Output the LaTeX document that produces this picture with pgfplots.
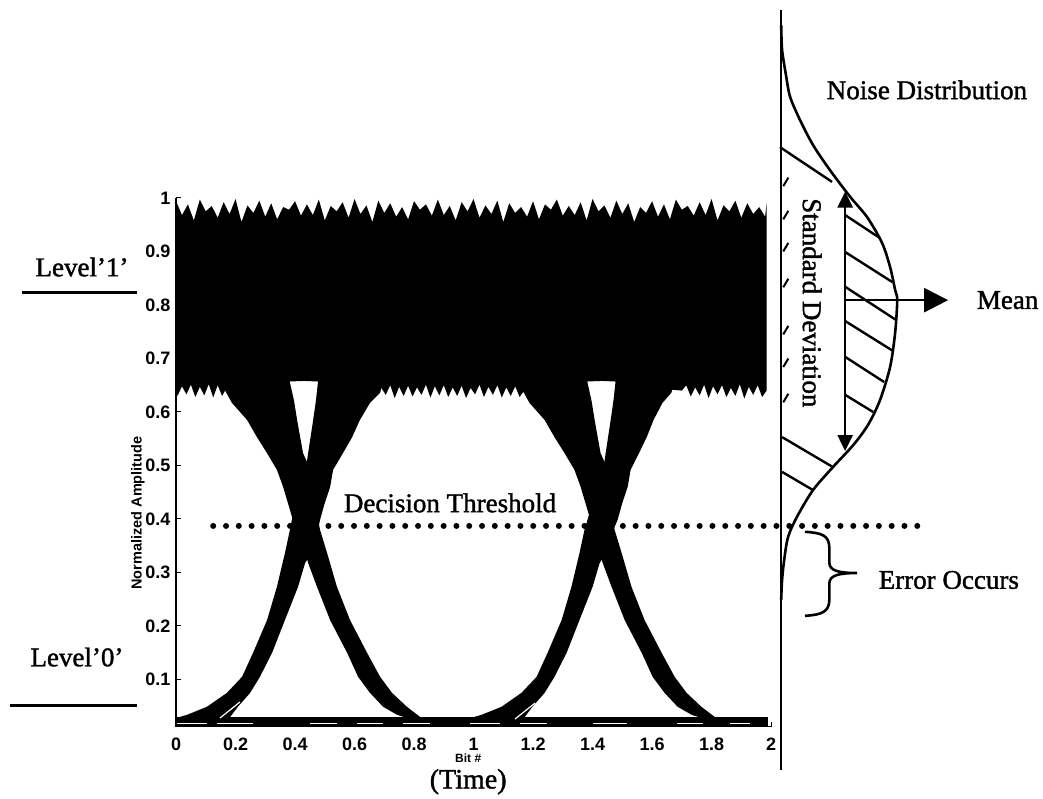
\documentclass[border=0pt]{standalone}
\usepackage{fontspec}
\setmainfont{Liberation Serif}
\setsansfont{Liberation Sans}
\newfontfamily\heavyserif[FakeBold=1.4]{Liberation Serif}
\usepackage{pgfplots}
\pgfplotsset{compat=1.18}
\usetikzlibrary{arrows.meta}
\newcommand{\lbl}{\fontsize{27}{32}\selectfont\heavyserif}
\newcommand{\tlfont}{\fontsize{18}{20}\selectfont\sffamily\bfseries}

\begin{document}
\begin{tikzpicture}
\begin{axis}[
  x=297.5pt, y=535pt,
  xmin=0, xmax=2, ymin=0.012, ymax=1,
  axis x line=bottom, axis y line=left,
  axis line style={-, line width=1.3pt},
  clip=false, no markers,
  xtick={0,0.2,0.4,0.6,0.8,1,1.2,1.4,1.6,1.8,2},
  xticklabels={0,0.2,0.4,0.6,0.8,1,1.2,1.4,1.6,1.8,2},
  ytick={0.1,0.2,0.3,0.4,0.5,0.6,0.7,0.8,0.9,1},
  yticklabels={0.1,0.2,0.3,0.4,0.5,0.6,0.7,0.8,0.9,1},
  tick align=inside, major tick length=5pt,
  every tick/.style={black, line width=1pt},
  ticklabel style={font=\tlfont},
  yticklabel style={xshift=-2pt},
  xticklabel style={yshift=-8pt},
  /pgf/number format/assume math mode=true,
]
% bounding frame (page size)
\path (axis cs:-0.5916,-0.1215) rectangle (axis cs:2.914,1.370);

% ---- "1" level band ----
\addplot[fill=black, draw=none] coordinates {
(0.00,0.994)(0.02,0.968)(0.04,0.988)(0.06,0.958)(0.08,0.997)(0.10,0.975)(0.12,0.985)(0.14,0.963)(0.16,0.992)(0.18,0.970)
(0.20,0.998)(0.22,0.955)(0.24,0.986)(0.26,0.972)(0.28,0.995)(0.30,0.965)(0.32,0.990)(0.34,0.960)(0.36,0.983)(0.38,0.978)
(0.40,0.994)(0.42,0.967)(0.44,0.988)(0.46,0.968)(0.48,0.997)(0.50,0.958)(0.52,0.985)(0.54,0.975)(0.56,0.992)(0.58,0.963)
(0.60,0.998)(0.62,0.970)(0.64,0.986)(0.66,0.955)(0.68,0.995)(0.70,0.972)(0.72,0.990)(0.74,0.965)(0.76,0.983)(0.78,0.960)
(0.80,0.994)(0.82,0.978)(0.84,0.988)(0.86,0.967)(0.88,0.997)(0.90,0.968)(0.92,0.985)(0.94,0.958)(0.96,0.992)(0.98,0.975)
(1.00,0.998)(1.02,0.963)(1.04,0.986)(1.06,0.970)(1.08,0.995)(1.10,0.955)(1.12,0.990)(1.14,0.972)(1.16,0.983)(1.18,0.965)
(1.20,0.994)(1.22,0.960)(1.24,0.988)(1.26,0.978)(1.28,0.997)(1.30,0.967)(1.32,0.985)(1.34,0.968)(1.36,0.992)(1.38,0.958)
(1.40,0.998)(1.42,0.975)(1.44,0.986)(1.46,0.963)(1.48,0.995)(1.50,0.970)(1.52,0.990)(1.54,0.955)(1.56,0.983)(1.58,0.972)
(1.60,0.994)(1.62,0.965)(1.64,0.988)(1.66,0.960)(1.68,0.997)(1.70,0.978)(1.72,0.985)(1.74,0.967)(1.76,0.992)(1.78,0.968)
(1.80,0.998)(1.82,0.958)(1.84,0.986)(1.86,0.975)(1.88,0.995)(1.90,0.963)(1.92,0.990)(1.94,0.970)(1.96,0.983)(1.98,0.965)
(1.985,0.990)
(1.985,0.640)(1.97,0.628)(1.955,0.650)(1.94,0.632)(1.925,0.647)(1.91,0.625)(1.895,0.652)(1.88,0.630)(1.865,0.645)(1.85,0.628)
(1.835,0.650)(1.82,0.633)(1.805,0.648)(1.79,0.626)(1.775,0.651)(1.76,0.631)(1.745,0.646)(1.73,0.629)(1.715,0.650)(1.70,0.640)
(1.60,0.645)(1.49,0.650)(1.477,0.657)(1.43,0.658)(1.383,0.657)(1.37,0.645)(1.20,0.645)(1.17,0.640)
(1.155,0.628)(1.14,0.648)(1.125,0.630)(1.11,0.646)(1.095,0.627)(1.08,0.650)(1.065,0.632)(1.05,0.647)(1.035,0.628)(1.02,0.651)
(1.005,0.633)(0.99,0.645)(0.975,0.626)(0.96,0.649)(0.945,0.630)(0.93,0.646)(0.915,0.628)(0.90,0.650)(0.885,0.631)(0.87,0.648)
(0.855,0.627)(0.84,0.651)(0.825,0.632)(0.81,0.646)(0.795,0.629)(0.78,0.649)(0.765,0.630)(0.75,0.647)(0.735,0.626)(0.72,0.650)
(0.705,0.632)(0.69,0.645)
(0.60,0.645)(0.49,0.650)(0.477,0.657)(0.43,0.658)(0.383,0.657)(0.37,0.645)(0.17,0.645)
(0.155,0.630)(0.14,0.650)(0.125,0.627)(0.11,0.652)(0.095,0.631)(0.08,0.647)(0.065,0.628)(0.05,0.651)(0.035,0.633)(0.02,0.648)
(0.005,0.630)(0,0.645)
};

% ---- first crossing: falling band ----
\addplot[fill=black, draw=none] coordinates {
(0.158,0.665)(0.158,0.647)(0.188,0.617)(0.239,0.585)(0.272,0.553)(0.306,0.523)(0.339,0.492)(0.360,0.460)(0.376,0.430)(0.393,0.398)
(0.417,0.370)(0.444,0.318)(0.474,0.273)(0.518,0.211)(0.575,0.150)(0.612,0.105)(0.652,0.075)(0.696,0.049)(0.743,0.034)(0.787,0.026)
(0.787,0.020)(0.830,0.020)(0.830,0.026)(0.776,0.049)(0.726,0.075)(0.686,0.105)(0.642,0.150)(0.585,0.211)(0.541,0.273)(0.508,0.336)
(0.484,0.380)(0.466,0.430)(0.450,0.480)(0.440,0.507)(0.427,0.523)(0.407,0.585)(0.397,0.620)(0.383,0.655)(0.383,0.665)
};
% ---- first crossing: rising band ----
\addplot[fill=black, draw=none] coordinates {
(0.000,0.020)(0.000,0.028)(0.037,0.034)(0.104,0.049)(0.171,0.075)(0.222,0.105)(0.259,0.150)(0.306,0.211)(0.339,0.273)(0.366,0.336)
(0.383,0.380)(0.400,0.430)(0.420,0.475)(0.440,0.507)(0.444,0.523)(0.461,0.585)(0.470,0.620)(0.477,0.655)(0.477,0.665)(0.700,0.665)
(0.686,0.636)(0.652,0.617)(0.618,0.585)(0.592,0.553)(0.561,0.523)(0.528,0.492)(0.518,0.460)(0.500,0.430)(0.484,0.398)(0.477,0.380)
(0.460,0.350)(0.440,0.323)(0.434,0.318)(0.410,0.273)(0.366,0.211)(0.323,0.150)(0.282,0.105)(0.249,0.075)(0.208,0.049)(0.182,0.030)
(0.182,0.020)
};
% ---- second crossing: falling band ----
\addplot[fill=black, draw=none] coordinates {
(1.158,0.665)(1.158,0.647)(1.188,0.617)(1.239,0.585)(1.272,0.553)(1.306,0.523)(1.339,0.492)(1.360,0.460)(1.376,0.430)(1.393,0.398)
(1.407,0.370)(1.434,0.318)(1.464,0.273)(1.508,0.211)(1.565,0.150)(1.602,0.105)(1.642,0.075)(1.686,0.049)(1.733,0.034)(1.777,0.026)
(1.777,0.020)(1.820,0.020)(1.820,0.026)(1.766,0.049)(1.716,0.075)(1.676,0.105)(1.632,0.150)(1.575,0.211)(1.531,0.273)(1.498,0.336)
(1.474,0.380)(1.466,0.430)(1.450,0.480)(1.440,0.507)(1.427,0.523)(1.407,0.585)(1.397,0.620)(1.383,0.655)(1.383,0.665)
};
% ---- second crossing: rising band ----
\addplot[fill=black, draw=none] coordinates {
(0.990,0.020)(0.990,0.028)(1.027,0.034)(1.094,0.049)(1.161,0.075)(1.212,0.105)(1.249,0.150)(1.296,0.211)(1.329,0.273)(1.356,0.336)
(1.373,0.380)(1.400,0.430)(1.420,0.475)(1.440,0.507)(1.444,0.523)(1.461,0.585)(1.470,0.620)(1.477,0.655)(1.477,0.665)(1.680,0.665)
(1.665,0.636)(1.635,0.617)(1.605,0.585)(1.582,0.553)(1.556,0.523)(1.528,0.492)(1.518,0.460)(1.500,0.430)(1.484,0.398)(1.470,0.380)
(1.450,0.350)(1.430,0.323)(1.424,0.318)(1.400,0.273)(1.356,0.211)(1.313,0.150)(1.272,0.105)(1.239,0.075)(1.198,0.049)(1.172,0.030)
(1.172,0.020)
};
% ---- "0" level band ----
\addplot[fill=black, draw=none] coordinates {(0,0.012)(1.99,0.012)(1.99,0.030)(0,0.030)};
% thin white strands
\addplot[white, line width=1.2pt] coordinates {(0.003,0.018)(0.104,0.018)};
\addplot[white, line width=1.2pt] coordinates {(0.138,0.018)(0.259,0.018)};
\addplot[white, line width=1.2pt] coordinates {(0.450,0.018)(0.541,0.018)};
\addplot[white, line width=1.2pt] coordinates {(0.608,0.018)(0.696,0.018)};
\addplot[white, line width=1.2pt] coordinates {(0.763,0.018)(0.854,0.018)};
\addplot[white, line width=1.2pt] coordinates {(0.988,0.018)(1.089,0.018)};
\addplot[white, line width=1.2pt] coordinates {(1.156,0.018)(1.247,0.018)};
\addplot[white, line width=1.2pt] coordinates {(1.402,0.018)(1.516,0.018)};
\addplot[white, line width=1.2pt] coordinates {(1.684,0.018)(1.771,0.018)};
\addplot[white, line width=1.2pt] coordinates {(1.862,0.018)(1.929,0.018)};
\addplot[white, line width=1.2pt] coordinates {(0.148,0.028)(0.215,0.058)};
\addplot[white, line width=1.2pt] coordinates {(1.139,0.026)(1.207,0.056)};

% ---- decision threshold ----
\addplot[black, line width=6pt, line cap=round, dash pattern=on 0pt off 12.8pt] coordinates {(0.125,0.387)(2.518,0.387)};

% ---- noise distribution ----
\addplot[black, line width=2.6pt] coordinates {(2.034,1.351)(2.034,-0.069)};
\addplot[black, line width=2.6pt, smooth] coordinates {
(2.034,1.323)(2.037,1.277)(2.050,1.230)(2.064,1.189)(2.097,1.146)(2.141,1.099)(2.198,1.052)(2.266,1.002)(2.323,0.964)(2.373,0.916)
(2.400,0.871)(2.417,0.828)(2.424,0.809)(2.417,0.748)(2.400,0.684)(2.366,0.622)(2.326,0.576)(2.276,0.538)(2.208,0.497)(2.141,0.454)
(2.087,0.404)(2.057,0.366)(2.044,0.323)(2.037,0.286)(2.034,0.249)};
% hatching
\addplot[black, line width=2.4pt] coordinates {(2.030,1.095)(2.205,1.030)};
\addplot[black, line width=2.4pt] coordinates {(2.249,0.968)(2.366,0.925)};
\addplot[black, line width=2.4pt] coordinates {(2.249,0.899)(2.407,0.843)};
\addplot[black, line width=2.4pt] coordinates {(2.249,0.834)(2.420,0.772)};
\addplot[black, line width=2.4pt] coordinates {(2.249,0.770)(2.410,0.714)};
\addplot[black, line width=2.4pt] coordinates {(2.249,0.703)(2.380,0.656)};
\addplot[black, line width=2.4pt] coordinates {(2.249,0.632)(2.343,0.600)};
\addplot[black, line width=2.4pt] coordinates {(2.037,0.553)(2.208,0.497)};
\addplot[black, line width=2.4pt] coordinates {(2.037,0.488)(2.141,0.454)};
\addplot[black, line width=2pt] coordinates {(2.041,1.022)(2.058,1.038)};
\addplot[black, line width=2pt] coordinates {(2.041,0.960)(2.058,0.976)};
\addplot[black, line width=2pt] coordinates {(2.041,0.900)(2.058,0.916)};
\addplot[black, line width=2pt] coordinates {(2.041,0.833)(2.058,0.849)};
\addplot[black, line width=2pt] coordinates {(2.041,0.745)(2.058,0.761)};
\addplot[black, line width=2pt] coordinates {(2.041,0.684)(2.058,0.700)};
\addplot[black, line width=2pt] coordinates {(2.041,0.618)(2.058,0.634)};
% standard deviation and mean arrows
\addplot[black, line width=2.6pt, {Triangle[length=16pt,width=15pt]}-{Triangle[length=16pt,width=15pt]}] coordinates {(2.249,0.527)(2.249,1.012)};
\addplot[black, line width=2.6pt, -{Triangle[length=24pt,width=24pt]}] coordinates {(2.249,0.809)(2.595,0.809)};
% brace
\draw[black, line width=2.6pt] (axis cs:2.114,0.376) .. controls (axis cs:2.17,0.374) and (axis cs:2.196,0.37) .. (axis cs:2.196,0.345)
  -- (axis cs:2.196,0.318) .. controls (axis cs:2.196,0.303) and (axis cs:2.23,0.299) .. (axis cs:2.289,0.299)
  .. controls (axis cs:2.23,0.299) and (axis cs:2.196,0.295) .. (axis cs:2.196,0.280)
  -- (axis cs:2.196,0.250) .. controls (axis cs:2.196,0.226) and (axis cs:2.17,0.221) .. (axis cs:2.114,0.219);

% ---- level markers ----
\addplot[black, line width=3pt] coordinates {(-0.518,0.824)(-0.131,0.824)};
\addplot[black, line width=3pt] coordinates {(-0.558,0.052)(-0.131,0.052)};

% ---- texts ----
\node[font=\lbl] at (axis cs:-0.316,0.871) {Level’1’};
\node[font=\lbl] at (axis cs:-0.333,0.142) {Level’0’};
\node[font=\lbl] at (axis cs:0.921,0.430) {Decision Threshold};
\node[font=\lbl] at (axis cs:2.524,1.202) {Noise Distribution};
\node[font=\lbl, anchor=west] at (axis cs:2.680,0.809) {Mean};
\node[font=\lbl, anchor=west] at (axis cs:2.350,0.286) {Error Occurs};
\node[font=\lbl, rotate=-90] at (axis cs:2.138,0.804) {Standard Deviation};
\node[font=\fontsize{14.5}{16}\selectfont\sffamily\bfseries, rotate=90] at (axis cs:-0.128,0.411) {Normalized Amplitude};
\node[font=\fontsize{28}{32}\selectfont\heavyserif] at (axis cs:0.982,-0.091) {(Time)};
\node[font=\fontsize{12}{13}\selectfont\sffamily\bfseries, inner sep=0pt] at (axis cs:0.982,-0.047) {Bit \#};
\end{axis}
\end{tikzpicture}
\end{document}
